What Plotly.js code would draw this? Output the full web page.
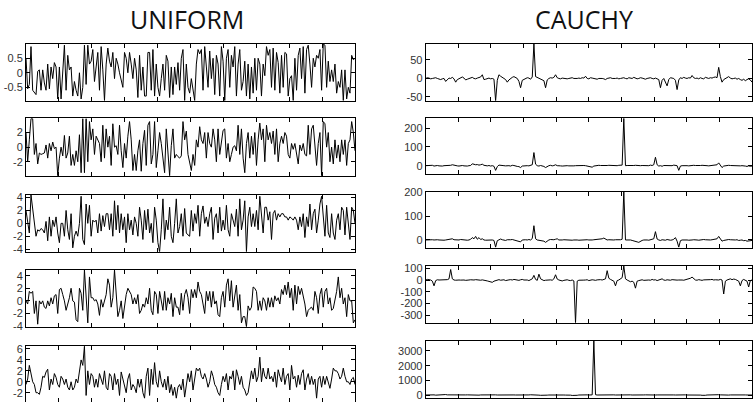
<!DOCTYPE html>
<html>
<head>
<meta charset="utf-8">
<script src="https://cdn.plot.ly/plotly-3.0.1.min.js"></script>
<style>
html,body{margin:0;padding:0;background:#fff;}
#chart{width:753px;height:402px;}
</style>
</head>
<body>
<div id="chart"></div>
<script>
// ---- data ----
const columnTitles = ["UNIFORM", "CAUCHY"];

const uniform1 = [0.5,-0.55,-0.4,0.9,-0.6,-0.7,-0.75,0.05,0.1,-0.6,0.1,-0.35,-0.6,0.3,-0.55,0.2,-0.2,0.35,0.2,-0.9,0.2,-0.9,0.2,0.95,-0.6,0.6,0.1,0.2,-0.8,-0.3,-0.6,-0.8,0,-0.9,-0.5,0.95,-0.4,0.95,0.3,0.4,0.8,-0.3,0.2,0.7,-0.6,0.9,0.1,-0.95,0.3,0.85,0.4,0.2,0.7,-0.2,0.5,0.3,0,-0.3,-0.5,0.7,0.5,0,0.7,0.3,-0.2,0.5,0.1,-0.85,0.6,-0.6,0.2,-0.8,-0.8,0.7,0.7,-0.6,0.8,-0.8,0.3,-0.5,-0.8,-0.2,0.3,-0.6,0.6,0.4,-0.85,0.2,-0.75,0.2,-0.4,0.35,-0.6,0.5,0.8,-0.95,0.3,-0.5,-0.7,-0.2,-0.6,-0.95,0.3,0.8,0.65,0.8,-0.6,0.9,0.2,-0.5,0.75,-0.2,0.5,-0.75,0.6,0.3,-0.8,0.9,0.4,-0.95,0.5,0.8,-0.5,0.6,0.2,0.9,-0.8,0.3,0.8,-0.6,-0.3,0.4,-0.8,0.3,-0.9,0.2,-0.7,0.5,-0.6,0.5,0.3,-0.8,0.3,-0.1,0.9,0.6,0.8,-0.5,0.85,-0.6,0.7,0.35,-0.7,0.6,-0.5,0.7,0.65,-0.8,-0.2,-0.1,-0.95,0.5,-0.6,0.6,0.85,-0.2,0.9,-0.7,0.8,0.95,0.3,-0.5,0.5,0.2,0.6,0.5,0.8,-0.6,0.99,0.95,-0.5,0.4,-0.3,0.1,-0.3,0.3,-0.7,-0.3,-0.5,0.1,-0.95,0.1,-0.9,-0.5,-0.7,0.6,0.45,0.5];

const uniform2 = [2,-2,1,3.9,3.9,-1,0.5,-2.3,-0.8,-1,-0.9,-0.8,0.3,-1.5,0.5,-0.5,0.7,-0.2,0,-3.9,-1.5,0,-1.2,1.6,-1.5,-0.8,1.5,-2.5,-1,-2.5,-0.5,-2,1.7,-3.5,3.9,-3.5,3.9,-2,3.5,1,2.5,-1,1.5,1,0.5,-2,3,-1.5,2.5,0,1.5,-2.5,3.2,0,0.2,-1,3,-0.5,-2.8,0.5,-1.5,1.5,3.5,1,-3.2,-1,-3.2,-0.5,1,-3.3,0.5,2.3,-2.5,3,3.5,-2.3,-1,3.5,-2.8,-0.5,2,0.5,-2,-3.5,2.5,-0.3,-3.9,0.2,2.5,-1.5,-1,-1.3,-1.5,-1.2,3.5,1,2.2,-1,-2,-3.2,-1,-2.5,1,0,2.8,1,0.5,2,-1.5,2,0.5,0,2.5,1,-2,2.5,-1,0.5,2.3,2.5,-1.5,0.5,-2,-1,0,0.2,-0.5,3,-1,2.5,-1.5,-3.5,0.5,2,-1.5,1.5,-1,2,-2.5,1,3.3,1,2.5,-2,3,1,2,0.5,2.2,-1,2.5,-2,0.5,1.5,0.5,2,1.5,-1,-1.5,0.5,-0.3,0.5,-1,-2.3,0.3,-0.5,0.5,-1,-1.2,3,-1,2.5,3,0.5,-2.5,0.5,2,-3.9,3.5,3.2,0,2,-2,0,-2.3,1,-1.5,0.3,-2,1,-1,1,-2.5,0.5,1,3.5,2,-0.5];

const uniform3 = [2,0,-1.5,4.4,2,0.5,-2,-1,-1.2,-0.8,-1,-1.5,0.3,-2.7,1,-2,0.5,-0.5,1,-1.5,-3,0,0,-2,2,-1,-2.5,1.5,-3.8,-2,-1.2,-2,0,4.2,-2.5,-3.3,3,0,2.8,-2,0.5,0.2,0.5,-1.5,1.5,-1.2,1.2,-0.5,1.5,1.5,-1,1.5,-2,3.5,-1,2.8,-1.5,1.5,-1,1,-3,1.5,-1,0.5,-1.8,1,0,-2,2.5,0.5,-2.5,2,-1,2.2,-1.5,0,-3,2.5,0.5,-3,-4.4,-1,3.8,-2.5,0.5,-1,2.5,-2,-3,0,3.8,-1.5,-0.5,1.5,-2,2.3,-1.5,-1.8,-2,2,-1.2,1.5,0,2.8,-2,1.5,2.7,0,1,-0.5,1.5,2.5,-2.5,0.8,1.5,-1.5,2.5,-1.2,0.5,-1,2.8,-1,-2,1.5,0.5,-0.5,2.2,-2,3.8,-1,0.5,3.5,-4.4,1,2.5,-0.5,1.5,-0.5,2,-1,4.2,1,-1.5,2.5,2.5,0.5,1.8,-2.5,1.5,2,0.5,1.5,1,1.5,1.5,1,1,0.5,1,0.8,0.5,1,0.5,-1,1,-0.5,1.5,-2.2,1,-0.5,3,-1,1.5,2.2,-1.5,0.5,3,4.2,1,-2,2.8,-1.5,-2.2,1.5,-1.5,-2.5,0.5,1.5,-1,2.5,2,-1.8,2.5,0,-2.5,2.5,2,0];

const uniform4 = [0,-0.5,1.5,1.2,1.5,-2,0,-3.7,0,-0.5,0,-1,-1.2,0,-0.8,0.5,-0.5,0.8,1,-2,1.8,2,1,0,-1.5,-0.5,0.5,2,0,-0.2,-3,-3.3,2,1.2,-1.5,4.9,0.5,-3.5,3.8,0.5,0.5,0,0.2,-0.5,-2.3,0.2,-1,0,1,3.5,2.5,-1,0.5,4.9,0.5,-2.5,-1.5,0,-2.8,-0.5,1,2,1.5,1,-0.5,0.5,-0.5,1,-2,-1.5,-0.5,-1,0.5,-0.5,2,-1.5,-2.2,1.5,1,-2,1.5,0,-1.5,1.5,-1.5,0.5,-0.5,1.2,-2.5,0.5,-1,-1,-2.2,1.2,-1.5,1,1.8,0.5,-2,1.8,0.5,1.8,0.5,3,1.5,1,-0.5,-2,1.5,0,1.5,-1,1.5,-0.5,0,-2.2,-2.5,0.5,1.5,-1,2.5,3.5,0,3.2,-1,1,2.5,-1.5,1,-3.5,-2.5,-2.5,-4.1,-0.8,-1.5,-1,2.2,2,1.5,-1.5,0,-1.5,0.5,0,-1.5,0.5,-1,0.5,-1,0.8,0,0.5,-0.5,1.8,1,2.5,1,3,0.5,2,-1.5,2.5,-0.5,2.3,1,2,0.8,-0.5,-2.5,-1.5,-1.2,-1,-1.5,1.5,0.5,-2,1,2,-1,1.5,2,-0.5,0.5,-1.5,-1.2,0,1.5,3.8,0.5,2,-0.5,0.5,-2.5,1,0,0,-3.5,-3];

const uniform5 = [-0.5,0.5,3,1.5,0,-0.5,-2,-2,-2.3,-1,1,0.8,1.8,2.3,-1.5,0.5,-0.5,1.5,0.8,-0.5,-1,1,0.5,-0.5,0.5,-1,-1.5,0,-1.5,-1,0.5,-0.2,2.5,4,3,6.5,-2.5,2,-0.5,1.5,1,-1,0.5,-1,1.5,0.5,-0.5,2,-1,-1.5,1.5,1,-1.5,1.5,-0.5,0.5,-2.5,1.8,0.5,-1,-2,0.5,1.5,-1.5,-0.5,-1,-2,0.5,-1,0.5,-2,-3,1,2.5,-2.5,2.3,-0.5,3.5,0,-1,2,0,-1,0.5,-1.5,1,-2,-0.5,-2.5,-1,-3,-1,-0.5,-1.5,0.5,-2.8,-0.5,1.5,0,2,-1.5,1,2.5,2,2.5,1,0.5,1.5,0.5,-1,0,2,1,-0.5,-1,-2,-2.5,-0.5,1,0,1.5,-1.5,1,0.5,2,-1.5,2.2,1,-0.5,1,-1,-1.5,-2.5,-2,0.5,2,0.5,2.5,0,1,4.5,0,2.5,1,0.5,2.5,0.5,1,0,1.8,-1,2.2,1,0,2.5,-0.5,1,1.5,-1.5,3,0.5,1,-1,1.2,-0.5,1.5,2.2,-1.5,0.5,1.5,-0.5,1,-0.5,0.5,-3,0.5,1,-1,1,-0.5,1,0,-1.2,0.5,2.5,2,2,1.5,0.5,1,2.5,1,0,0,-0.5,0.5,0.8,-0.5];

const cauchy1 = [0,2,1,-1,0,1,2,0,-2,-3,-1,0,-8,-2,1,0,3,-1,-10,-3,0,2,4,1,-4,-2,0,1,3,0,-1,1,2,4,10,-3,-2,0,1,-1,0,-2,-60,-5,10,6,2,0,-3,-10,-4,0,3,5,2,0,-8,-25,-5,-2,0,2,1,-2,4,93,5,3,1,0,-2,-6,-25,-4,0,2,1,3,10,2,0,-1,1,0,-2,-1,0,1,2,0,-1,0,1,0,2,1,6,0,-1,2,1,0,-1,-2,0,1,0,-1,-3,0,1,2,0,-1,0,1,-1,0,1,2,0,-1,2,1,0,3,1,-1,0,2,1,0,-2,0,1,2,0,-1,1,0,-3,-25,-5,0,-8,-20,-3,2,1,0,-5,-30,-4,2,0,3,1,0,2,1,8,2,0,1,-1,2,0,-1,3,1,0,2,1,3,4,2,30,5,-10,-3,0,2,5,1,-1,0,1,-2,0,-3,-5,-2,-6,-3,-1,-4,-10];

const cauchy2 = [0,1,-1,0,2,-2,0,1,-1,-3,-2,0,1,0,-1,2,5,2,0,-1,-2,0,1,-1,-3,-2,0,1,10,6,5,6,3,5,8,2,0,-1,1,-2,0,-3,-25,-5,3,1,-2,0,-1,1,0,-2,2,1,-3,-4,-5,-10,-2,0,1,0,-1,2,5,70,8,0,-2,1,-1,-4,-10,-3,0,2,-1,1,5,0,1,-1,-2,0,1,0,-1,-2,-3,-1,0,1,0,-1,0,1,0,-2,-4,-6,-8,-2,0,1,2,1,0,-1,0,1,2,1,0,-1,1,0,2,1,3,253,0,1,0,-1,0,1,2,0,-1,0,1,0,-1,2,0,3,1,5,45,5,-2,0,-3,1,0,2,1,-1,0,3,1,0,-25,-2,0,1,2,0,-1,1,0,2,1,0,-1,1,2,0,1,0,-1,0,2,1,3,5,15,3,-10,-2,0,1,2,1,0,-1,1,0,-2,-1,0,-3,-2,-4,-1,-3,-2];

const cauchy3 = [0,1,0,2,1,0,2,1,0,-1,-2,-1,0,1,0,3,5,1,0,-1,0,2,1,0,-2,-1,0,3,10,5,15,3,10,2,5,0,-1,0,1,-1,0,-2,-30,-3,2,4,1,0,-2,1,0,1,2,0,-2,-3,-4,-8,0,2,1,0,2,0,6,60,5,0,-1,0,-2,-5,-10,-3,0,2,0,1,3,5,0,-1,0,1,0,-1,-2,0,-1,0,1,0,-1,0,-2,-1,0,1,0,-1,0,1,2,1,3,2,5,8,2,0,1,0,-1,0,1,0,2,1,3,203,0,1,-1,0,-2,-3,-5,-8,-10,-4,-2,0,1,0,-1,2,3,5,35,4,0,-2,1,0,-1,2,0,-1,0,3,10,-5,-30,-3,0,1,2,0,-1,1,0,1,2,0,-1,1,0,2,1,0,-1,0,1,2,3,5,15,4,-5,-2,0,1,2,1,0,-1,0,1,-2,-1,0,-3,-2,-5,-3,-4,-2];

const cauchy4 = [0,5,3,0,-10,-50,-5,2,0,1,0,-2,1,3,10,90,10,0,-2,1,0,-1,2,0,-3,1,0,2,-1,0,3,0,-5,-2,1,0,-3,-8,-12,-15,-20,-10,-5,0,3,-2,0,2,-5,0,1,3,0,5,2,0,-3,2,5,0,3,0,-5,2,10,40,5,-3,50,10,0,-5,-2,0,3,1,-2,10,45,8,0,-5,-8,-3,0,2,-3,-5,0,-8,-366,-10,-2,0,3,-1,0,2,-5,0,2,0,-3,1,5,3,0,2,10,80,15,5,0,-10,-50,-5,0,10,20,120,10,0,-5,-15,-10,-20,-70,-10,-5,0,2,-3,0,3,0,-2,5,0,2,-5,0,3,10,0,-3,2,0,-2,3,0,2,-1,0,3,0,-2,1,5,10,15,25,8,0,-2,3,0,-3,1,0,2,0,3,5,0,2,-2,0,5,0,-120,-10,0,5,10,3,8,5,0,-10,-50,-5,5,0,-10,-60,-5,0];

const cauchy5 = [0,10,-5,5,0,10,-10,0,5,10,0,20,30,10,5,0,15,20,10,0,5,10,0,-5,5,10,0,5,10,0,5,0,-10,5,10,0,5,0,-5,10,0,5,10,0,5,-5,0,10,5,0,5,0,10,5,0,-5,5,10,0,5,10,0,5,15,0,10,5,0,-10,-20,-30,-40,-20,-10,0,5,10,0,5,20,10,0,5,0,-5,10,0,-10,-30,-40,-50,-20,0,10,0,5,20,10,0,5,10,3700,20,0,5,10,0,5,0,10,5,0,-5,10,0,5,15,0,5,0,10,0,5,10,0,-5,5,0,10,5,0,5,10,0,5,0,-5,10,0,5,10,5,0,-10,5,0,10,5,0,5,0,10,5,0,-5,5,10,0,5,0,10,5,0,5,0,-5,-20,-40,-20,0,10,20,5,0,10,30,20,10,0,5,10,0,-5,5,10,0,5,0,-10,5,0,10,5,0,5,-5,0];

const uniformSeries = [uniform1, uniform2, uniform3, uniform4, uniform5];
const cauchySeries = [cauchy1, cauchy2, cauchy3, cauchy4, cauchy5];

const uniformTicks = [[-0.5,0,0.5],[-2,0,2],[-4,-2,0,2,4],[-4,-2,0,2,4],[-2,0,2,4,6]];
const cauchyTicks = [[-50,0,50],[0,100,200],[0,100,200],[-300,-200,-100,0,100],[0,1000,2000,3000]];

const uniformRanges = [[-0.97,0.99],[-3.95,3.95],[-4.4,4.4],[-4.1,4.9],[-3.7,6.6]];
const cauchyRanges = [[-60,93],[-46,253],[-35,203],[-366,120],[-170,3700]];

const xTicks = [10,20,30,40,50,60,70,80,90];

// ---- layout geometry (pixels) ----
const W = 753, H = 402;
const colX = [[26,355],[425.7,752]];
const rowsPx = [
  [[44,101],[118.3,176],[195,251.7],[270,326.7],[345.7,402]],
  [[44,100.7],[118.3,174.3],[191.7,248.3],[266,322.7],[340.7,397.5]]
];

const traces = [];
const layout = {
  width: W, height: H,
  margin: {l:0,r:0,t:0,b:0},
  paper_bgcolor: '#fff', plot_bgcolor: '#fff',
  showlegend: false,
  annotations: []
};

const allSeries = [uniformSeries, cauchySeries];
const allTicks = [uniformTicks, cauchyTicks];
const allRanges = [uniformRanges, cauchyRanges];

let k = 0;
for (let c = 0; c < 2; c++) {
  for (let r = 0; r < 5; r++) {
    k++;
    const ys = allSeries[c][r];
    const xs = ys.map((_, i) => i * 100 / (ys.length - 1));
    const xa = 'x' + (k === 1 ? '' : k), ya = 'y' + (k === 1 ? '' : k);
    traces.push({
      x: xs, y: ys, type: 'scatter', mode: 'lines',
      line: {color: '#000', width: 1},
      xaxis: xa, yaxis: ya, hoverinfo: 'skip', cliponaxis: true
    });
    const [top, bot] = rowsPx[c][r];
    const tv = allTicks[c][r];
    layout['xaxis' + (k === 1 ? '' : k)] = {
      domain: [colX[c][0] / W, colX[c][1] / W],
      anchor: ya, range: [0, 100],
      tickvals: xTicks, showticklabels: false,
      ticks: 'inside', ticklen: 4, tickcolor: '#000', tickwidth: 1,
      showline: true, linecolor: '#000', linewidth: 1, mirror: 'ticks',
      showgrid: false, zeroline: false, fixedrange: true
    };
    layout['yaxis' + (k === 1 ? '' : k)] = {
      domain: [1 - bot / H, 1 - top / H],
      anchor: xa, range: allRanges[c][r],
      tickvals: tv, ticktext: tv.map(v => String(v)),
      ticks: 'inside', ticklen: 4, tickcolor: '#000', tickwidth: 1,
      showline: true, linecolor: '#000', linewidth: 1, mirror: 'ticks',
      showgrid: false, zeroline: false, fixedrange: true,
      tickfont: {family: 'Liberation Sans, Arial, sans-serif', size: 11, color: '#333'}
    };
  }
}

const titleX = [187, 584];
for (let c = 0; c < 2; c++) {
  layout.annotations.push({
    text: columnTitles[c], xref: 'paper', yref: 'paper',
    x: titleX[c] / W, y: 1 - 19 / H, xanchor: 'center', yanchor: 'middle',
    showarrow: false,
    font: {family: 'Open Sans, DejaVu Sans, sans-serif', size: 25, color: '#111'}
  });
}

Plotly.newPlot('chart', traces, layout, {staticPlot: true, displayModeBar: false});
</script>
</body>
</html>
